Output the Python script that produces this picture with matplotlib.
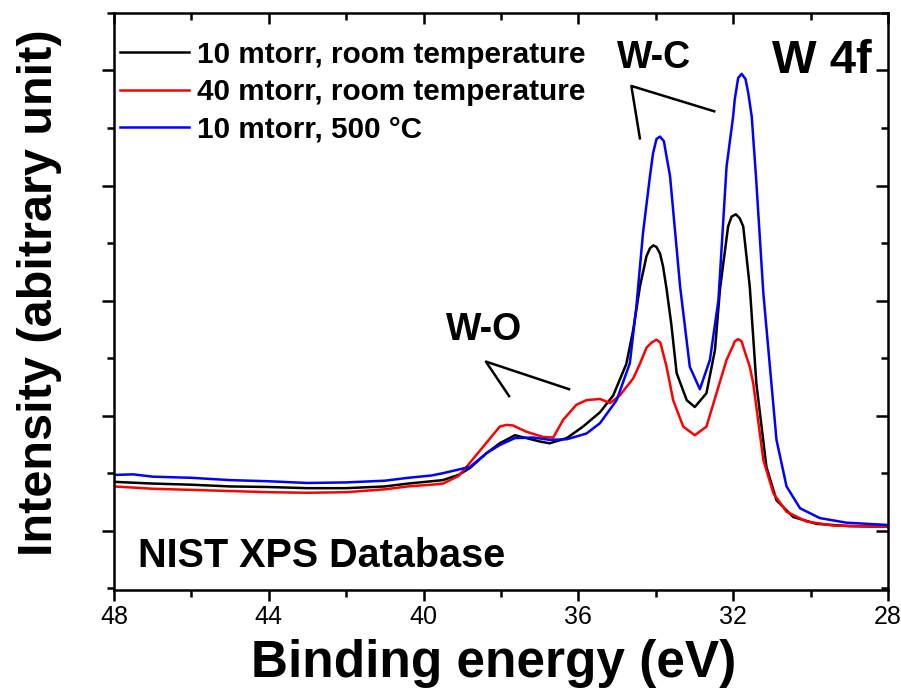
import matplotlib
matplotlib.use('Agg')
import matplotlib.pyplot as plt
from matplotlib.ticker import MultipleLocator, NullFormatter

plt.rcParams['font.family'] = ['Liberation Sans', 'DejaVu Sans']
plt.rcParams['font.weight'] = 'bold'

# binding energy (eV) and intensity (arb. units)
e_black = [48.0, 47.0, 46.0, 45.0, 44.0, 43.0, 42.0, 41.0, 40.4, 39.8, 39.5, 39.1, 38.8,
           38.37, 38.03, 37.64, 37.34, 36.99, 36.74, 36.3, 35.88, 35.44, 35.1, 34.76,
           34.58, 34.41, 34.24, 34.15, 34.06, 33.98, 33.89, 33.81, 33.72, 33.6, 33.46, 33.2,
           32.99, 32.69, 32.47, 32.34, 32.13, 32.04, 31.93, 31.83, 31.74, 31.57, 31.4,
           31.14, 30.88, 30.45, 29.85, 29.0, 28.0]
i_black = [0.85, 0.82, 0.80, 0.77, 0.76, 0.74, 0.74, 0.77, 0.82, 0.86, 0.88, 0.97, 1.09,
           1.35, 1.52, 1.66, 1.61, 1.55, 1.52, 1.61, 1.81, 2.06, 2.35, 2.90,
           3.50, 4.24, 4.77, 4.91, 4.96, 4.93, 4.82, 4.59, 4.20, 3.60, 2.74, 2.27,
           2.15, 2.39, 3.14, 4.20, 5.29, 5.46, 5.50, 5.43, 5.29, 4.24, 2.56,
           1.11, 0.53, 0.24, 0.12, 0.08, 0.07]

e_red = [48.0, 47.0, 46.0, 45.0, 44.0, 43.0, 42.0, 41.0, 40.4, 39.8, 39.5, 39.1, 38.89,
         38.46, 38.03, 37.86, 37.69, 37.34, 36.91, 36.65, 36.39, 36.05, 35.79, 35.44,
         35.18, 34.93, 34.58, 34.41, 34.24, 34.11, 33.98, 33.88, 33.72, 33.55, 33.29,
         32.99, 32.69, 32.43, 32.17, 32.0, 31.96, 31.87, 31.78, 31.74, 31.57, 31.48, 31.22,
         30.96, 30.62, 30.1, 29.41, 28.0]
i_red = [0.77, 0.73, 0.71, 0.69, 0.67, 0.66, 0.67, 0.72, 0.77, 0.80, 0.82, 0.95, 1.11,
         1.46, 1.81, 1.84, 1.83, 1.72, 1.63, 1.62, 1.93, 2.19, 2.27, 2.29,
         2.22, 2.35, 2.65, 2.90, 3.18, 3.27, 3.32, 3.27, 2.85, 2.27, 1.81,
         1.66, 1.81, 2.39, 2.97, 3.22, 3.29, 3.33, 3.29, 3.20, 2.85, 2.56, 1.23,
         0.65, 0.33, 0.16, 0.09, 0.07]

e_blue = [48.0, 47.5, 47.0, 46.0, 45.0, 44.0, 43.0, 42.0, 41.0, 40.4, 39.8, 39.5, 38.8,
          38.37, 38.03, 37.64, 37.17, 36.74, 36.3, 35.79, 35.44, 35.01, 34.67, 34.5,
          34.33, 34.15, 34.07, 33.98, 33.89, 33.79, 33.72, 33.63, 33.37, 33.12, 32.86,
          32.6, 32.38, 32.17, 32.0, 31.96, 31.87, 31.78, 31.68, 31.61, 31.52, 31.41,
          31.22, 31.05, 30.88, 30.62, 30.27, 29.76, 29.07, 28.0]
i_blue = [0.97, 0.98, 0.94, 0.92, 0.88, 0.86, 0.83, 0.84, 0.87, 0.92, 0.96, 1.00, 1.11,
          1.35, 1.49, 1.61, 1.62, 1.58, 1.59, 1.69, 1.87, 2.27, 2.91, 3.90,
          5.17, 6.16, 6.56, 6.81, 6.85, 6.77, 6.50, 6.16, 4.24, 2.85, 2.46,
          2.97, 4.01, 6.33, 7.20, 7.49, 7.87, 7.94, 7.85, 7.61, 7.20, 6.16,
          4.13, 2.85, 1.58, 0.77, 0.39, 0.22, 0.14, 0.10]

labels = ['10 mtorr, room temperature', '40 mtorr, room temperature', '10 mtorr, 500 °C']

# annotation pointer lines (vertex in the middle)
wc_e = [34.41, 34.63, 32.49]
wc_i = [6.82, 7.73, 7.29]
wo_e = [37.79, 38.39, 36.24]
wo_i = [2.34, 2.94, 2.46]

fig = plt.figure(figsize=(9.01, 6.97), dpi=100)
ax = fig.add_axes([0.1265, 0.1535, 0.859, 0.828])

ax.plot(e_black, i_black, color='black', lw=1.8, label=labels[0])
ax.plot(e_red, i_red, color='#ff0000', lw=1.8, label=labels[1])
ax.plot(e_blue, i_blue, color='#0000ff', lw=1.8, label=labels[2])

ax.plot(wc_e, wc_i, color='black', lw=1.8)
ax.plot(wo_e, wo_i, color='black', lw=1.8)

ax.text(35.01, 8.05, 'W-C', fontsize=27, ha='left', va='baseline')
ax.text(39.41, 3.32, 'W-O', fontsize=27, ha='left', va='baseline')
ax.text(0.979, 0.896, 'W 4f', fontsize=34, ha='right', va='baseline', transform=ax.transAxes)
ax.text(0.031, 0.040, 'NIST XPS Database', fontsize=28.5, ha='left', va='baseline',
        transform=ax.transAxes)

ax.set_xlim(48, 28)
ax.set_ylim(-1.03, 9.0)

ax.xaxis.set_major_locator(MultipleLocator(4))
ax.xaxis.set_minor_locator(MultipleLocator(2))
ax.yaxis.set_major_locator(MultipleLocator(2))
ax.yaxis.set_minor_locator(MultipleLocator(1))
ax.yaxis.set_major_formatter(NullFormatter())

ax.tick_params(axis='x', which='major', direction='out', length=8, width=1.8,
               top=True, labelsize=18, pad=3)
ax.tick_params(axis='x', which='minor', direction='out', length=5, width=1.8, top=True)
ax.tick_params(axis='y', which='major', direction='out', length=9, width=1.8, right=True)
ax.tick_params(axis='y', which='minor', direction='out', length=5, width=1.8, right=True)
# top / right ticks point inward
for t in ax.xaxis.get_major_ticks() + ax.xaxis.get_minor_ticks():
    t.tick2line.set_marker(3)
for t in ax.yaxis.get_major_ticks() + ax.yaxis.get_minor_ticks():
    t.tick2line.set_marker(0)
for lbl in ax.get_xticklabels():
    lbl.set_family(['Liberation Sans Narrow', 'Liberation Sans'])
    lbl.set_fontweight('normal')

for s in ax.spines.values():
    s.set_linewidth(1.8)

ax.set_xlabel('Binding energy (eV)', fontsize=37, fontweight='bold')
ax.xaxis.set_label_coords(0.49, -0.085)
ax.set_ylabel('Intensity (abitrary unit)', fontsize=35, fontweight='bold')
ax.yaxis.set_label_coords(-0.067, 0.516)

ax.legend(loc='upper left', bbox_to_anchor=(0.008, 0.952), frameon=False, fontsize=21.4,
          handlelength=2.3, handletextpad=0.3, labelspacing=0.32, borderpad=0,
          borderaxespad=0)

fig.savefig('out.png', dpi=100)
